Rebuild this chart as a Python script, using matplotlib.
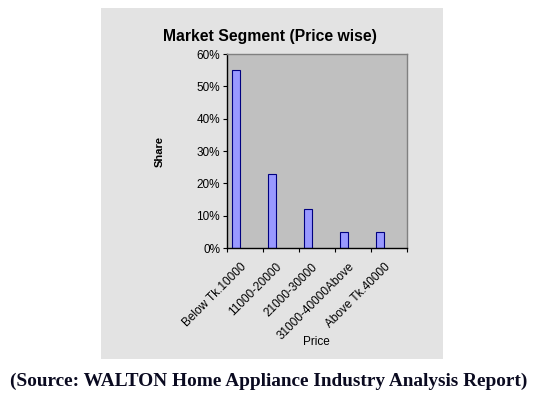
import matplotlib
matplotlib.use("Agg")
import matplotlib.pyplot as plt
from matplotlib.ticker import PercentFormatter
import numpy as np

categories = ["Below Tk.10000", "11000-20000", "21000-30000", "31000-40000Above", "Above Tk.40000"]
shares = [0.55, 0.23, 0.12, 0.05, 0.05]

plt.rcParams["font.family"] = ["Liberation Sans", "DejaVu Sans"]

fig = plt.figure(figsize=(5.37, 3.96), dpi=100)
fig.patch.set_facecolor("white")

# marble-ish chart background (flat light grey stand-in)
bg = fig.add_axes([0.188, 0.093, 0.637, 0.886], zorder=0)
bg.set_facecolor("#e3e3e3")
bg.set_xticks([]); bg.set_yticks([])
for sp in bg.spines.values():
    sp.set_visible(False)

ax = fig.add_axes([0.4227, 0.3737, 0.3352, 0.4899], zorder=2)
ax.set_facecolor("#c0c0c0")
for sp in ax.spines.values():
    sp.set_color("#808080")
    sp.set_linewidth(1.0)
ax.spines["left"].set_color("black")
ax.spines["bottom"].set_color("black")

x = np.arange(len(categories))
ax.bar(x + 0.25, shares, width=0.23, color="#9999ff", edgecolor="#000080", linewidth=0.8)

ax.set_xlim(0, len(categories))
ax.set_ylim(0, 0.6)
ax.set_yticks(np.arange(0, 0.61, 0.1))
ax.yaxis.set_major_formatter(PercentFormatter(1.0, decimals=0))
ax.set_xticks(np.arange(len(categories) + 1))
ax.set_xticklabels([])
ax.tick_params(axis="both", length=3, width=0.8, color="black", labelsize=8.5, direction="out", pad=2)

for i, c in enumerate(categories):
    ax.text(i + 0.36, -0.04, c, rotation=45, ha="right", va="top", rotation_mode="anchor",
            fontsize=8.5)

ax.set_ylabel("Share", fontsize=8, fontweight="bold", labelpad=23)
fig.text(0.589, 0.136, "Price", ha="center", va="center", fontsize=8.5, zorder=3)
fig.text(0.503, 0.907, "Market Segment (Price wise)", ha="center", va="center",
         fontsize=11.3, fontweight="bold", zorder=3)
fig.text(0.5, 0.038, "(Source: WALTON Home Appliance Industry Analysis Report)",
         ha="center", va="center", fontsize=13.9, fontweight="bold",
         family=["Liberation Serif", "DejaVu Serif"], color="#0a0a20", zorder=3)

fig.savefig("out.png", dpi=100)
